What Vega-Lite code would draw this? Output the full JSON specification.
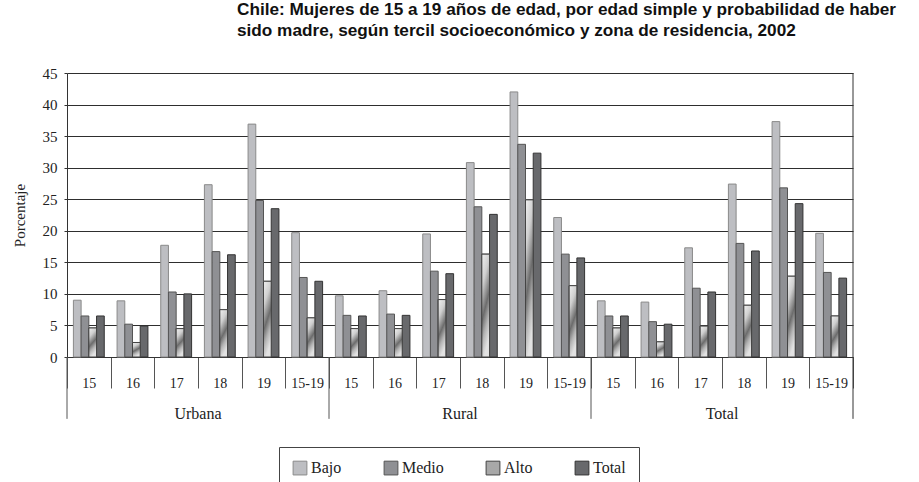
{
  "$schema": "https://vega.github.io/schema/vega-lite/v6.json",
  "width": 786,
  "height": 284,
  "autosize": "none",
  "padding": {"left": 67, "top": 73, "right": 66, "bottom": 125},
  "background": "white",
  "title": {
    "text": ["Chile: Mujeres de 15 a 19 años de edad, por edad simple y probabilidad de haber", "sido madre, según tercil socioeconómico y zona de residencia, 2002"],
    "anchor": "start",
    "align": "left",
    "dx": 225,
    "offset": 27,
    "font": "Liberation Sans",
    "fontSize": 17.2,
    "fontWeight": "bold",
    "color": "#111",
    "lineHeight": 21
  },
  "config": {
    "view": {"stroke": null},
    "font": "Liberation Serif",
    "axisX": {
      "labelAngle": 0,
      "tickBand": "extent",
      "tickSize": 31,
      "tickColor": "#555",
      "domainColor": "#333",
      "labelPadding": -12,
      "labelFont": "Liberation Serif",
      "labelFontSize": 14,
      "labelColor": "#222",
      "labelDx": 3,
      "grid": false
    },
    "axisY": {
      "titleFont": "Liberation Serif",
      "titleFontSize": 15,
      "titleFontWeight": "normal",
      "titleColor": "#222",
      "titlePadding": 15,
      "tickCount": 10,
      "labelOverlap": false,
      "grid": true,
      "gridColor": "#2e2e2e",
      "gridWidth": 1,
      "ticks": true,
      "tickSize": 3,
      "tickColor": "#333",
      "domainColor": "#333",
      "labelFont": "Liberation Serif",
      "labelFontSize": 15,
      "labelColor": "#222",
      "labelPadding": 7
    }
  },
  "datasets": {
    "tabla": [
        {"zona":"Urbana","edad":"15","nivel":"Bajo","valor":9.0},
        {"zona":"Urbana","edad":"15","nivel":"Medio","valor":6.5},
        {"zona":"Urbana","edad":"15","nivel":"Alto","valor":4.6},
        {"zona":"Urbana","edad":"15","nivel":"Total","valor":6.5},
        {"zona":"Urbana","edad":"16","nivel":"Bajo","valor":8.9},
        {"zona":"Urbana","edad":"16","nivel":"Medio","valor":5.2},
        {"zona":"Urbana","edad":"16","nivel":"Alto","valor":2.3},
        {"zona":"Urbana","edad":"16","nivel":"Total","valor":4.9},
        {"zona":"Urbana","edad":"17","nivel":"Bajo","valor":17.7},
        {"zona":"Urbana","edad":"17","nivel":"Medio","valor":10.3},
        {"zona":"Urbana","edad":"17","nivel":"Alto","valor":4.5},
        {"zona":"Urbana","edad":"17","nivel":"Total","valor":10.0},
        {"zona":"Urbana","edad":"18","nivel":"Bajo","valor":27.3},
        {"zona":"Urbana","edad":"18","nivel":"Medio","valor":16.7},
        {"zona":"Urbana","edad":"18","nivel":"Alto","valor":7.5},
        {"zona":"Urbana","edad":"18","nivel":"Total","valor":16.2},
        {"zona":"Urbana","edad":"19","nivel":"Bajo","valor":36.9},
        {"zona":"Urbana","edad":"19","nivel":"Medio","valor":24.8},
        {"zona":"Urbana","edad":"19","nivel":"Alto","valor":12.0},
        {"zona":"Urbana","edad":"19","nivel":"Total","valor":23.5},
        {"zona":"Urbana","edad":"15-19","nivel":"Bajo","valor":19.7},
        {"zona":"Urbana","edad":"15-19","nivel":"Medio","valor":12.6},
        {"zona":"Urbana","edad":"15-19","nivel":"Alto","valor":6.2},
        {"zona":"Urbana","edad":"15-19","nivel":"Total","valor":12.0},
        {"zona":"Rural","edad":"15","nivel":"Bajo","valor":9.7},
        {"zona":"Rural","edad":"15","nivel":"Medio","valor":6.6},
        {"zona":"Rural","edad":"15","nivel":"Alto","valor":4.5},
        {"zona":"Rural","edad":"15","nivel":"Total","valor":6.5},
        {"zona":"Rural","edad":"16","nivel":"Bajo","valor":10.5},
        {"zona":"Rural","edad":"16","nivel":"Medio","valor":6.8},
        {"zona":"Rural","edad":"16","nivel":"Alto","valor":4.5},
        {"zona":"Rural","edad":"16","nivel":"Total","valor":6.6},
        {"zona":"Rural","edad":"17","nivel":"Bajo","valor":19.5},
        {"zona":"Rural","edad":"17","nivel":"Medio","valor":13.6},
        {"zona":"Rural","edad":"17","nivel":"Alto","valor":9.1},
        {"zona":"Rural","edad":"17","nivel":"Total","valor":13.2},
        {"zona":"Rural","edad":"18","nivel":"Bajo","valor":30.8},
        {"zona":"Rural","edad":"18","nivel":"Medio","valor":23.8},
        {"zona":"Rural","edad":"18","nivel":"Alto","valor":16.3},
        {"zona":"Rural","edad":"18","nivel":"Total","valor":22.6},
        {"zona":"Rural","edad":"19","nivel":"Bajo","valor":42.0},
        {"zona":"Rural","edad":"19","nivel":"Medio","valor":33.7},
        {"zona":"Rural","edad":"19","nivel":"Alto","valor":24.9},
        {"zona":"Rural","edad":"19","nivel":"Total","valor":32.3},
        {"zona":"Rural","edad":"15-19","nivel":"Bajo","valor":22.1},
        {"zona":"Rural","edad":"15-19","nivel":"Medio","valor":16.3},
        {"zona":"Rural","edad":"15-19","nivel":"Alto","valor":11.3},
        {"zona":"Rural","edad":"15-19","nivel":"Total","valor":15.7},
        {"zona":"Total","edad":"15","nivel":"Bajo","valor":8.9},
        {"zona":"Total","edad":"15","nivel":"Medio","valor":6.5},
        {"zona":"Total","edad":"15","nivel":"Alto","valor":4.6},
        {"zona":"Total","edad":"15","nivel":"Total","valor":6.5},
        {"zona":"Total","edad":"16","nivel":"Bajo","valor":8.7},
        {"zona":"Total","edad":"16","nivel":"Medio","valor":5.6},
        {"zona":"Total","edad":"16","nivel":"Alto","valor":2.4},
        {"zona":"Total","edad":"16","nivel":"Total","valor":5.2},
        {"zona":"Total","edad":"17","nivel":"Bajo","valor":17.3},
        {"zona":"Total","edad":"17","nivel":"Medio","valor":10.9},
        {"zona":"Total","edad":"17","nivel":"Alto","valor":4.9},
        {"zona":"Total","edad":"17","nivel":"Total","valor":10.3},
        {"zona":"Total","edad":"18","nivel":"Bajo","valor":27.4},
        {"zona":"Total","edad":"18","nivel":"Medio","valor":18.0},
        {"zona":"Total","edad":"18","nivel":"Alto","valor":8.2},
        {"zona":"Total","edad":"18","nivel":"Total","valor":16.8},
        {"zona":"Total","edad":"19","nivel":"Bajo","valor":37.3},
        {"zona":"Total","edad":"19","nivel":"Medio","valor":26.8},
        {"zona":"Total","edad":"19","nivel":"Alto","valor":12.8},
        {"zona":"Total","edad":"19","nivel":"Total","valor":24.3},
        {"zona":"Total","edad":"15-19","nivel":"Bajo","valor":19.6},
        {"zona":"Total","edad":"15-19","nivel":"Medio","valor":13.4},
        {"zona":"Total","edad":"15-19","nivel":"Alto","valor":6.5},
        {"zona":"Total","edad":"15-19","nivel":"Total","valor":12.5}
    ]
  },
  "layer": [
    {
      "data": {"name": "tabla"},
      "transform": [{"calculate": "datum.zona + '|' + datum.edad", "as": "g"}],
      "mark": {"type": "bar", "strokeWidth": 1},
      "encoding": {
        "x": {
          "field": "g",
          "type": "nominal",
          "scale": {
            "domain": ["Urbana|15","Urbana|16","Urbana|17","Urbana|18","Urbana|19","Urbana|15-19","Rural|15","Rural|16","Rural|17","Rural|18","Rural|19","Rural|15-19","Total|15","Total|16","Total|17","Total|18","Total|19","Total|15-19"],
            "paddingInner": 0,
            "paddingOuter": 0
          },
          "axis": {"title": null, "labelExpr": "split(datum.value, '|')[1]"}
        },
        "xOffset": {
          "field": "nivel",
          "type": "nominal",
          "scale": {"domain": ["Bajo","Medio","Alto","Total"], "paddingInner": 0, "paddingOuter": 0.83}
        },
        "y": {
          "field": "valor",
          "type": "quantitative",
          "scale": {"domain": [0, 45]},
          "axis": {"title": "Porcentaje"}
        },
        "color": {
          "field": "nivel",
          "type": "nominal",
          "scale": {
            "domain": ["Bajo","Medio","Alto","Total"],
            "range": ["#bdbec2", "#8f9094", "#a8a8a8", "#68696c"]
          },
          "legend": {
            "title": null,
            "orient": "none",
            "legendX": 212,
            "legendY": 374,
            "direction": "horizontal",
            "symbolType": "square",
            "symbolSize": 190,
            "symbolStrokeColor": "#444",
            "symbolStrokeWidth": 1,
            "labelFont": "Liberation Serif",
            "labelFontSize": 16,
            "labelColor": "#222",
            "labelOffset": 3,
            "columnPadding": 40,
            "padding": 13,
            "strokeColor": "#444",
            "fillColor": "white",
            "encode": {
              "symbols": {
                "update": {
                  "fill": [
                    {"test": "datum.value === 'Alto'", "value": {"gradient": "linear", "x1": 0, "y1": 0, "x2": 1, "y2": 1, "stops": [{"offset": 0, "color": "#f0f0f0"}, {"offset": 0.35, "color": "#c8c8c8"}, {"offset": 0.55, "color": "#555555"}, {"offset": 0.75, "color": "#c8c8c8"}, {"offset": 1, "color": "#eeeeee"}]}},
                    {"scale": "color", "field": "value"}
                  ]
                }
              }
            }
          }
        },
        "stroke": {
          "field": "nivel",
          "type": "nominal",
          "scale": {"domain": ["Bajo","Medio","Alto","Total"], "range": ["#8a8a8a", "#555555", "#444444", "#333333"]},
          "legend": null
        }
      }
    },
    {
      "data": {"name": "tabla"},
      "transform": [{"filter": "datum.nivel === 'Alto'"}, {"calculate": "datum.zona + '|' + datum.edad", "as": "g"}],
      "mark": {
        "type": "bar",
        "stroke": "#444444",
        "strokeWidth": 1,
        "color": {"gradient": "linear", "x1": 0, "y1": 0, "x2": 0.3, "y2": 1, "stops": [{"offset": 0, "color": "#f0f0f0"}, {"offset": 0.3, "color": "#cfcfcf"}, {"offset": 0.6, "color": "#6c6c6c"}, {"offset": 0.8, "color": "#b4b4b4"}, {"offset": 1, "color": "#e2e2e2"}]}
      },
      "encoding": {
        "x": {"field": "g", "type": "nominal", "axis": {"title": null, "labelExpr": "split(datum.value, '|')[1]"}},
        "xOffset": {"field": "nivel", "type": "nominal"},
        "y": {"field": "valor", "type": "quantitative", "axis": {"title": "Porcentaje"}}
      }
    },
    {
      "data": {"values": [{"g": "Urbana|15"}, {"g": "Rural|15"}, {"g": "Total|15"}]},
      "mark": {"type": "rule", "color": "#555", "strokeWidth": 1},
      "encoding": {
        "x": {"field": "g", "type": "nominal", "bandPosition": 0, "axis": {"title": null, "labelExpr": "split(datum.value, '|')[1]"}},
        "y": {"datum": 0, "type": "quantitative", "axis": {"title": "Porcentaje"}},
        "y2": {"datum": -9.8}
      }
    },
    {
      "data": {"values": [{"g": "Total|15-19"}]},
      "mark": {"type": "rule", "color": "#333", "strokeWidth": 1},
      "encoding": {
        "x": {"field": "g", "type": "nominal", "bandPosition": 1, "axis": {"title": null, "labelExpr": "split(datum.value, '|')[1]"}},
        "y": {"datum": 45, "type": "quantitative", "axis": {"title": "Porcentaje"}},
        "y2": {"datum": -9.8}
      }
    },
    {
      "data": {"values": [{"g": "Urbana|18", "zona": "Urbana"}, {"g": "Rural|18", "zona": "Rural"}, {"g": "Total|18", "zona": "Total"}]},
      "mark": {"type": "text", "font": "Liberation Serif", "fontSize": 16, "color": "#222", "baseline": "middle"},
      "encoding": {
        "x": {"field": "g", "type": "nominal", "bandPosition": 0, "axis": {"title": null, "labelExpr": "split(datum.value, '|')[1]"}},
        "y": {"datum": -9.0, "type": "quantitative", "axis": {"title": "Porcentaje"}},
        "text": {"field": "zona"}
      }
    }
  ]
}
